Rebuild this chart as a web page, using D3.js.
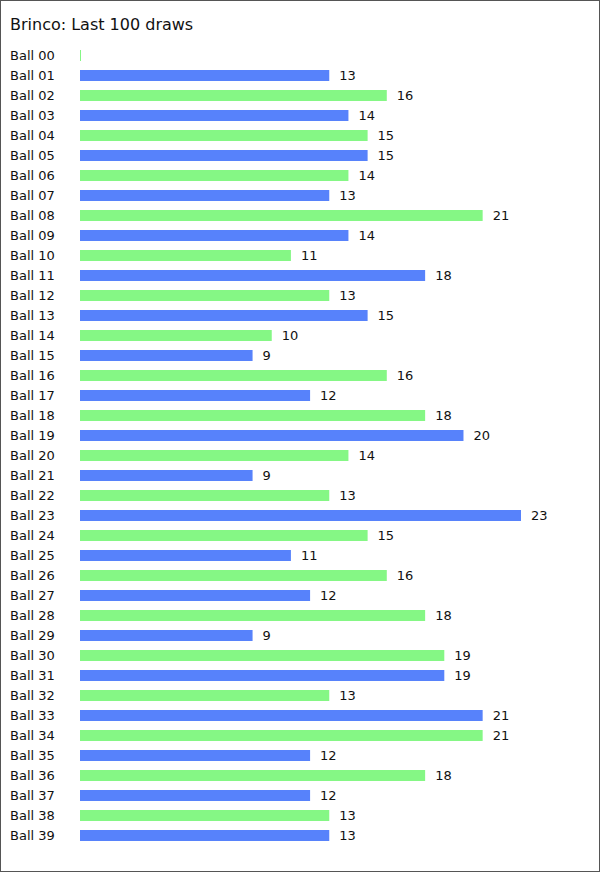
<!DOCTYPE html>
<html>
<head>
<meta charset="utf-8">
<script src="https://cdn.jsdelivr.net/npm/d3@7"></script>
<style>
html,body{margin:0;padding:0;background:#fff;}
svg{display:block;font-family:"DejaVu Sans",Verdana,sans-serif;}
</style>
</head>
<body>
<svg id="chart" width="600" height="872"></svg>
<script>
const title = "Brinco: Last 100 draws";
const balls = ["Ball 00","Ball 01","Ball 02","Ball 03","Ball 04","Ball 05","Ball 06","Ball 07","Ball 08","Ball 09",
"Ball 10","Ball 11","Ball 12","Ball 13","Ball 14","Ball 15","Ball 16","Ball 17","Ball 18","Ball 19",
"Ball 20","Ball 21","Ball 22","Ball 23","Ball 24","Ball 25","Ball 26","Ball 27","Ball 28","Ball 29",
"Ball 30","Ball 31","Ball 32","Ball 33","Ball 34","Ball 35","Ball 36","Ball 37","Ball 38","Ball 39"];
const counts = [0,13,16,14,15,15,14,13,21,14,11,18,13,15,10,9,16,12,18,20,14,9,13,23,15,11,16,12,18,9,19,19,13,21,21,12,18,12,13,13];
const colors = ["#85f785","#5782fb"];

const svg = d3.select("#chart");
svg.append("rect").attr("x",0.5).attr("y",0.5).attr("width",599).attr("height",871)
  .attr("fill","#fff").attr("stroke","#555");

svg.append("text").attr("x",10).attr("y",30).attr("font-size",16).attr("fill","#111").text(title);

const x = d3.scaleLinear().domain([0,23]).range([80,521]);
const y = d3.scaleBand().domain(balls).range([45.5,845.5]).paddingInner(0.45).paddingOuter(0.225);

const data = balls.map((b,i)=>({b, v:counts[i], i}));

const g = svg.append("g");
g.selectAll("text.lab").data(data).join("text").attr("class","lab")
  .attr("x",10).attr("y",d=>y(d.b)+10)
  .attr("font-size",13).attr("fill","#111").text(d=>d.b);

g.selectAll("rect.bar").data(data).join("rect").attr("class","bar")
  .attr("x",x(0)).attr("y",d=>y(d.b))
  .attr("width",d=>Math.max(1,x(d.v)-x(0))).attr("height",y.bandwidth())
  .attr("fill",d=>colors[d.i%2]);

g.selectAll("text.val").data(data.filter(d=>d.v>0)).join("text").attr("class","val")
  .attr("x",d=>x(d.v)+10).attr("y",d=>y(d.b)+10)
  .attr("font-size",13).attr("fill","#111").text(d=>d.v);
</script>
</body>
</html>
